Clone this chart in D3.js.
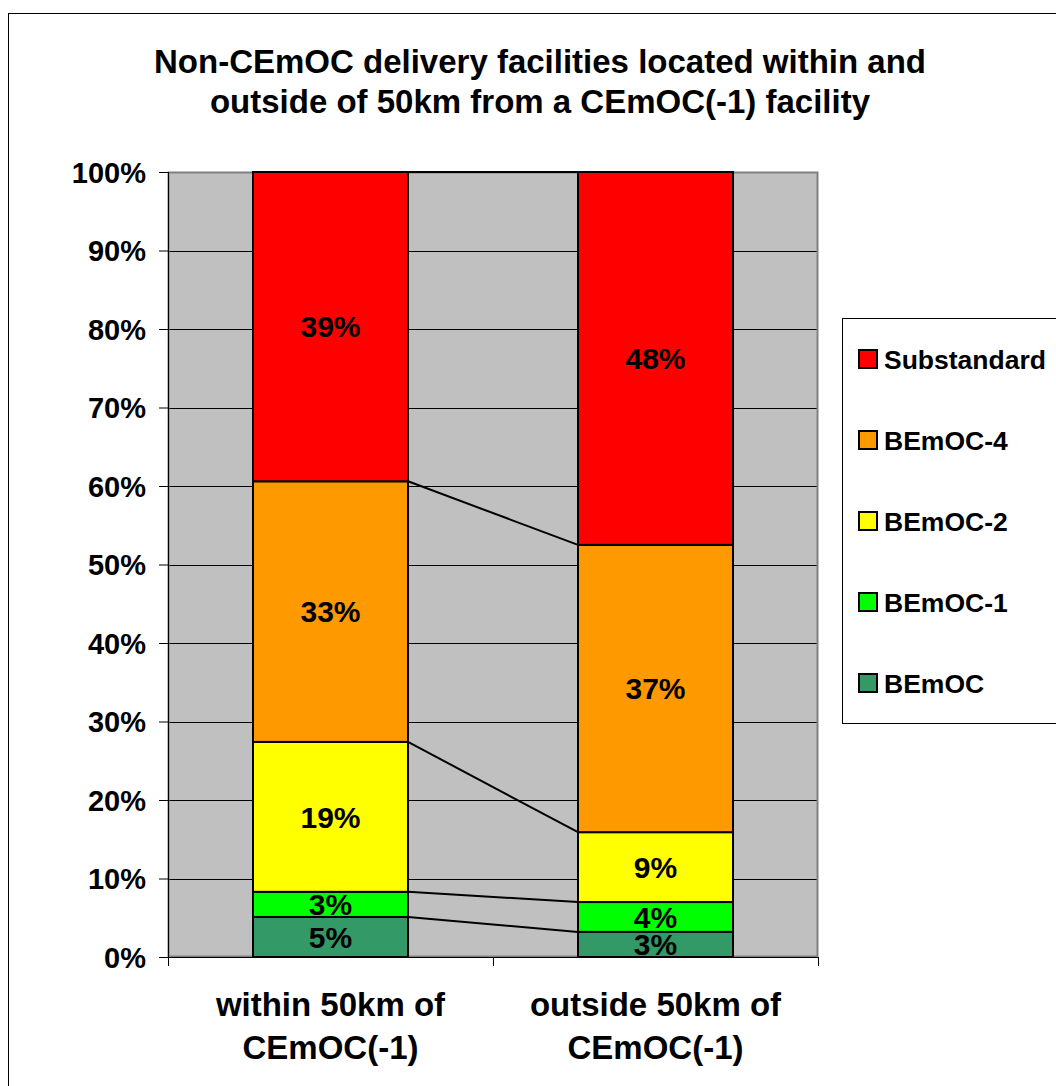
<!DOCTYPE html>
<html>
<head>
<meta charset="utf-8">
<script src="https://cdn.jsdelivr.net/npm/d3@7"></script>
<style>
  html, body { margin: 0; padding: 0; background: #fff; }
  svg { display: block; }
  text { font-family: "Liberation Sans", Arial, sans-serif; font-weight: bold; fill: #000; }
</style>
</head>
<body>
<svg id="chart" width="1056" height="1086"></svg>
<script>
// ---- data ----
const titleLines = ["Non-CEmOC delivery facilities located within and", "outside of 50km from a CEmOC(-1) facility"];
const categories = [["within 50km of", "CEmOC(-1)"], ["outside 50km of", "CEmOC(-1)"]];
const seriesNames = ["BEmOC", "BEmOC-1", "BEmOC-2", "BEmOC-4", "Substandard"];
const seriesColors = ["#339966", "#00FF00", "#FFFF00", "#FF9900", "#FF0000"];
const valBEmOC       = [5.1, 3.2];
const valBEmOC1      = [3.2, 3.8];
const valBEmOC2      = [19.1, 8.9];
const valBEmOC4      = [33.2, 36.6];
const valSubstandard = [39.4, 47.5];
const yTicks = [0, 10, 20, 30, 40, 50, 60, 70, 80, 90, 100];

const seriesValues = [valBEmOC, valBEmOC1, valBEmOC2, valBEmOC4, valSubstandard];
const rows = categories.map((c, i) => {
  const r = { idx: i };
  seriesNames.forEach((s, k) => r[s] = seriesValues[k][i]);
  return r;
});

const svg = d3.select("#chart");
const plot = { left: 168, top: 172, right: 818, bottom: 957 };

// outer border
svg.append("rect").attr("x", 8.5).attr("y", 13.5).attr("width", 1070).attr("height", 1090)
  .attr("fill", "#fff").attr("stroke", "#000").attr("stroke-width", 1);

// title
svg.append("g").selectAll("text").data(titleLines).join("text")
  .attr("x", 540).attr("y", (d, i) => 73 + i * 40)
  .attr("text-anchor", "middle").style("font-size", "33px").text(d => d);

const x = d3.scaleBand().domain(d3.range(categories.length)).range([plot.left, plot.right]).paddingInner(0).paddingOuter(0);
const barW = 155;
const y = d3.scaleLinear().domain([0, 100]).range([plot.bottom, plot.top]);

// plot area background
svg.append("rect").attr("x", plot.left).attr("y", plot.top)
  .attr("width", plot.right - plot.left).attr("height", plot.bottom - plot.top)
  .attr("fill", "#C0C0C0");

// gridlines
svg.append("g").selectAll("line").data(yTicks.slice(1)).join("line")
  .attr("x1", plot.left).attr("x2", plot.right)
  .attr("y1", d => Math.round(y(d)) + 0.5).attr("y2", d => Math.round(y(d)) + 0.5)
  .attr("stroke", "#000").attr("stroke-width", 1);

// plot border
svg.append("rect").attr("x", plot.left + 0.5).attr("y", plot.top + 0.5)
  .attr("width", plot.right - plot.left - 1).attr("height", plot.bottom - plot.top - 1)
  .attr("fill", "none").attr("stroke", "#808080").attr("stroke-width", 2);

const stacked = d3.stack().keys(seriesNames)(rows);

// connector (series) lines
const bx = i => x(i) + (x.bandwidth() - barW) / 2;
const conn = svg.append("g");
stacked.forEach(layer => {
  conn.append("line")
    .attr("x1", bx(0) + barW).attr("y1", y(layer[0][1]))
    .attr("x2", bx(1)).attr("y2", y(layer[1][1]))
    .attr("stroke", "#000").attr("stroke-width", 2);
});

// bars
const gBars = svg.append("g");
stacked.forEach((layer, k) => {
  gBars.selectAll(null).data(layer).join("rect")
    .attr("x", (d, i) => bx(i))
    .attr("y", d => y(d[1]))
    .attr("width", barW)
    .attr("height", d => y(d[0]) - y(d[1]))
    .attr("fill", seriesColors[k])
    .attr("stroke", "#000").attr("stroke-width", 2);
});

// data labels
const gLab = svg.append("g");
stacked.forEach((layer, k) => {
  gLab.selectAll(null).data(layer).join("text")
    .attr("x", (d, i) => bx(i) + barW / 2)
    .attr("y", d => (y(d[0]) + y(d[1])) / 2)
    .attr("dy", "0.36em")
    .attr("text-anchor", "middle").style("font-size", "30px")
    .text(d => Math.round(d[1] - d[0]) + "%");
});

// y axis
const yAxis = d3.axisLeft(y).tickValues(yTicks).tickFormat(d => d + "%").tickSize(9).tickPadding(13);
const gy = svg.append("g").attr("transform", `translate(${plot.left},0)`).call(yAxis);
gy.select(".domain").attr("stroke", "#000").attr("d", `M0.5,${plot.top}V${plot.bottom}`);
gy.selectAll(".tick line").attr("stroke", "#000");
gy.selectAll(".tick text").attr("font-family", null).attr("font-size", null)
  .style("font-size", "29px").attr("dy", "0.36em");

// x axis (ticks at band boundaries)
const gx = svg.append("g");
gx.append("line").attr("x1", plot.left).attr("x2", plot.right)
  .attr("y1", plot.bottom + 0.5).attr("y2", plot.bottom + 0.5).attr("stroke", "#000");
const bounds = [0, 1, 2].map(i => plot.left + i * x.bandwidth());
gx.selectAll(".xt").data(bounds).join("line")
  .attr("x1", d => Math.round(d) + 0.5).attr("x2", d => Math.round(d) + 0.5)
  .attr("y1", plot.bottom).attr("y2", plot.bottom + 9).attr("stroke", "#000");
categories.forEach((lines, i) => {
  gx.selectAll(null).data(lines).join("text")
    .attr("x", x(i) + x.bandwidth() / 2)
    .attr("y", (d, j) => 1016 + j * 43)
    .attr("text-anchor", "middle").style("font-size", "33px").text(d => d);
});

// legend
const leg = svg.append("g");
leg.append("rect").attr("x", 842.5).attr("y", 318.5).attr("width", 240).attr("height", 405)
  .attr("fill", "#fff").attr("stroke", "#000").attr("stroke-width", 1);
const legOrder = seriesNames.map((s, k) => ({ name: s, color: seriesColors[k] })).reverse();
const legY = d3.scalePoint().domain(legOrder.map(d => d.name)).range([359, 683]);
const li = leg.selectAll("g.li").data(legOrder).join("g").attr("class", "li")
  .attr("transform", d => `translate(0,${legY(d.name)})`);
li.append("rect").attr("x", 859).attr("y", -9).attr("width", 18).attr("height", 18)
  .attr("fill", d => d.color).attr("stroke", "#000").attr("stroke-width", 2);
li.append("text").attr("x", 884).attr("dy", "0.36em").style("font-size", "26.5px").text(d => d.name);
</script>
</body>
</html>
